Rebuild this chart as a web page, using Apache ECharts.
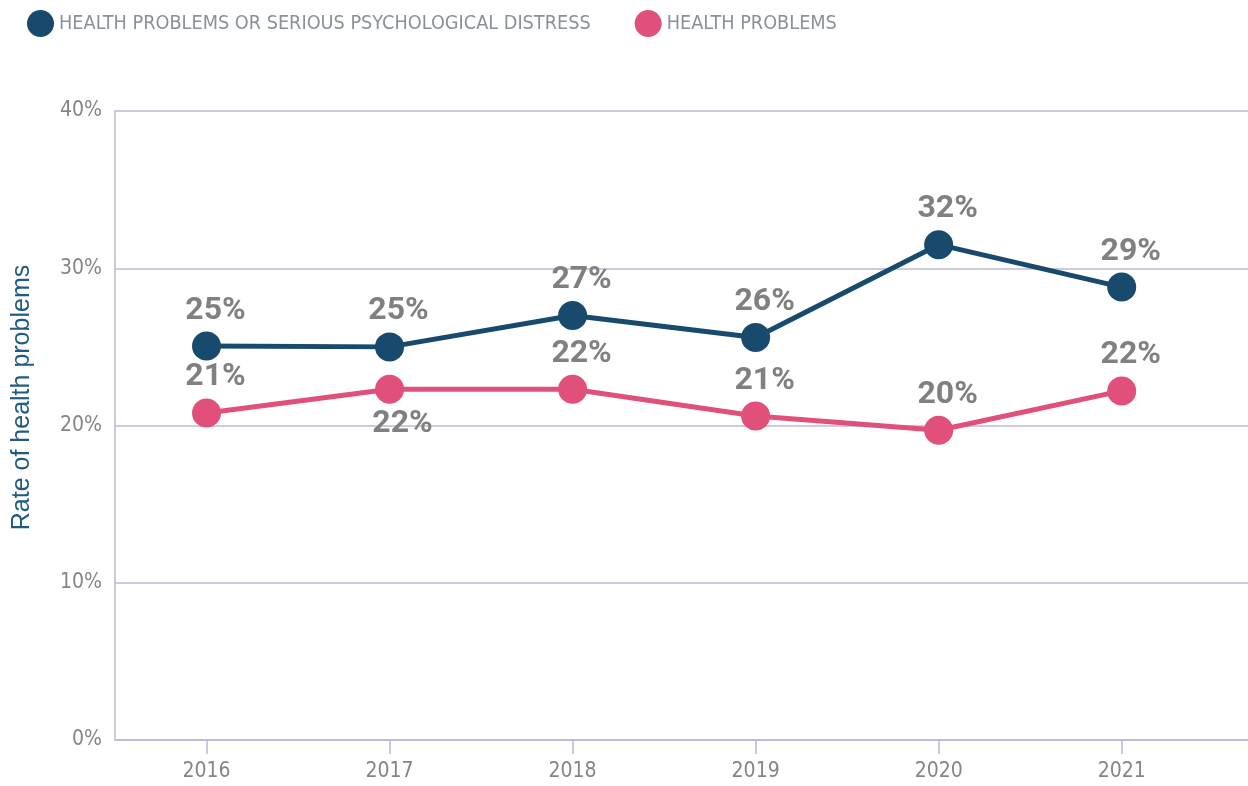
<!DOCTYPE html>
<html>
<head>
<meta charset="utf-8">
<script src="https://cdn.jsdelivr.net/npm/echarts@6/dist/echarts.min.js"></script>
<style>
  html, body { margin: 0; padding: 0; background: #fff; }
  #main { width: 1248px; height: 786px; }
</style>
</head>
<body>
<div id="main"></div>
<script>
// data
var years = [2016, 2017, 2018, 2019, 2020, 2021];
var distressRate = [25.05, 25.0, 27.0, 25.6, 31.5, 28.8];
var healthRate = [20.8, 22.3, 22.3, 20.6, 19.7, 22.2];
var yTicks = [0, 10, 20, 30, 40];
var seriesNames = ['HEALTH PROBLEMS OR SERIOUS PSYCHOLOGICAL DISTRESS', 'HEALTH PROBLEMS'];

var myChart = echarts.init(document.getElementById('main'));

var gridColor = '#bcb8d4';
var tickFont = '"Liberation Sans Narrow", "DejaVu Sans Condensed", Roboto, sans-serif';

function pairs(vals) {
  return years.map(function (y, i) { return [y, vals[i]]; });
}

var labelStyle = {
  show: true,
  position: 'top',
  distance: 5,
  offset: [9, 0],
  color: '#808080',
  fontFamily: 'Roboto, "Liberation Sans", sans-serif',
  fontWeight: 'bold',
  fontSize: 32,
  formatter: function (p) { return Math.round(p.value[1]) + '%'; }
};

var option = {
  animation: false,
  legend: {
    left: 22,
    top: 5,
    itemWidth: 27,
    itemHeight: 27,
    itemGap: 44,
    icon: 'circle',
    textStyle: {
      color: '#8a9196',
      fontFamily: tickFont,
      fontSize: 19.7,
      padding: [0, 0, 0, 0]
    },
    data: seriesNames
  },
  grid: {
    left: 115,
    right: 0,
    top: 111,
    bottom: 46,
    containLabel: false
  },
  xAxis: {
    type: 'value',
    min: 2015.5,
    max: 2021.69,
    axisLine: { show: true, lineStyle: { color: gridColor, width: 1.5 } },
    axisTick: {
      show: true,
      customValues: years,
      length: 14,
      lineStyle: { color: gridColor, width: 1.5 }
    },
    axisLabel: {
      customValues: years,
      color: '#858585',
      fontFamily: tickFont,
      fontSize: 21,
      margin: 21,
      formatter: function (v) { return String(v); }
    },
    splitLine: { show: false }
  },
  yAxis: {
    type: 'value',
    min: 0,
    max: 40,
    interval: 10,
    name: 'Rate of health problems',
    nameLocation: 'middle',
    nameGap: 80,
    nameTextStyle: {
      color: '#1f5b80',
      fontFamily: '"Liberation Sans", Arial, sans-serif',
      fontSize: 25,
      padding: [0, 0, 0, 56]
    },
    axisLine: { show: true, lineStyle: { color: gridColor, width: 1.5 } },
    axisTick: { show: false },
    axisLabel: {
      customValues: yTicks,
      color: '#858585',
      fontFamily: tickFont,
      fontSize: 21,
      margin: 13,
      formatter: function (v) { return v + '%'; }
    },
    splitLine: { show: true, lineStyle: { color: gridColor, width: 1.5 } }
  },
  series: [
    {
      name: seriesNames[0],
      type: 'line',
      data: pairs(distressRate),
      symbol: 'circle',
      symbolSize: 29,
      color: '#174a6c',
      lineStyle: { width: 5, color: '#174a6c' },
      label: labelStyle,
      z: 3
    },
    {
      name: seriesNames[1],
      type: 'line',
      data: pairs(healthRate).map(function (d, i) {
        // 2017 label sits under the point
        if (i === 1) {
          return { value: d, label: { position: 'bottom', distance: 4, offset: [13, 0] } };
        }
        return d;
      }),
      symbol: 'circle',
      symbolSize: 29,
      color: '#e0507a',
      lineStyle: { width: 5, color: '#e0507a' },
      label: labelStyle,
      z: 2
    }
  ]
};

myChart.setOption(option);
</script>
</body>
</html>
